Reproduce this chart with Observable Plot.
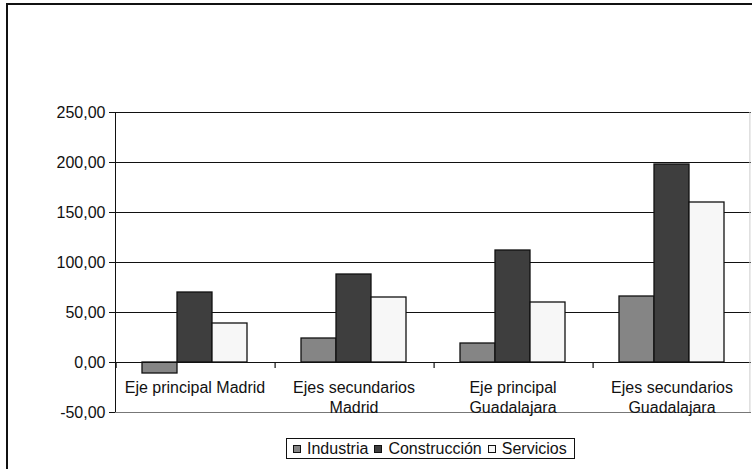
<!DOCTYPE html>
<html>
<head>
<meta charset="utf-8">
<script src="https://cdn.jsdelivr.net/npm/d3@7"></script>
<script src="https://cdn.jsdelivr.net/npm/@observablehq/plot@0.6"></script>
<style>
  html, body { margin: 0; padding: 0; background: #fff; }
  #wrap { position: relative; width: 752px; height: 469px; overflow: hidden; font-family: "Liberation Sans", Arial, sans-serif; }
  #border { position: absolute; left: 6px; top: 3px; width: 760px; height: 480px; border-left: 2px solid #111; border-top: 2px solid #111; box-sizing: border-box; }
  #chart { position: absolute; left: 0; top: 0; }
  #legend { position: absolute; left: 286px; top: 438px; height: 21px; width: 289px; box-sizing: border-box; border: 1px solid #111;
            display: flex; align-items: center; font-size: 16px; color: #111; padding-left: 6px; white-space: nowrap; }
  #legend .item { display: flex; align-items: center; margin-right: 6px; }
  #legend .sw { width: 8px; height: 8px; box-sizing: border-box; border: 1px solid #111; margin-right: 6px; }
</style>
</head>
<body>
<div id="wrap">
  <div id="border"></div>
  <div id="chart"></div>
  <div id="legend"></div>
</div>
<script>
// ---- data ----
const categories = ["Eje principal Madrid", "Ejes secundarios Madrid", "Eje principal Guadalajara", "Ejes secundarios Guadalajara"];
const categoryLabels = ["Eje principal Madrid", "Ejes secundarios\nMadrid", "Eje principal\nGuadalajara", "Ejes secundarios\nGuadalajara"];
const series = ["Industria", "Construcción", "Servicios"];
const industria = [-11, 24, 19, 66];
const construccion = [70, 88, 112, 198];
const servicios = [39, 65, 60, 160];
const yTicks = [-50, 0, 50, 100, 150, 200, 250];
const gridValues = [50, 100, 150, 200, 250];
const colors = ["#858585", "#3e3e3e", "#f7f7f7"];

const seriesValues = [industria, construccion, servicios];
const rows = [];
categories.forEach((c, i) => series.forEach((s, j) => rows.push({cat: c, series: s, value: seriesValues[j][i]})));

// ---- layout ----
const W = 752, H = 420, mL = 113, mR = 0, mT = 112, mB = 8;
const po = 0.72; // outer padding of the bars within each group
const facetW = (W - mL - mR) / categories.length;
const bw = facetW / (series.length + 2 * po);
const edgeOffset = po * bw + bw / 2;

const fmt = d => d.toFixed(2).replace(".", ",");

const chart = Plot.plot({
  width: W, height: H,
  marginLeft: mL, marginRight: mR, marginTop: mT, marginBottom: mB,
  facet: {data: rows, x: "cat", marginTop: 0, marginRight: 0, marginBottom: 0, marginLeft: 0},
  fx: {domain: categories, padding: 0, axis: null},
  x: {domain: series, paddingInner: 0, paddingOuter: po, axis: null},
  y: {domain: [-50, 250], ticks: yTicks, tickFormat: fmt, tickSize: 6, tickPadding: 4, line: true, label: null},
  color: {domain: series, range: colors},
  style: {fontFamily: "'Liberation Sans', Arial, sans-serif", fontSize: "16px", color: "#111", background: "transparent", overflow: "visible"},
  marks: [
    Plot.ruleY(gridValues, {stroke: "#111", strokeWidth: 1}),
    Plot.ruleY([-50], {stroke: "#777", strokeWidth: 1}),
    Plot.barY(rows, {x: "series", y: "value", fill: "series", stroke: "#111", strokeWidth: 1.3}),
    Plot.ruleY([0], {stroke: "#111", strokeWidth: 1}),
    Plot.ruleX(series.slice(0, 1), {x: d => d, y1: () => 0, y2: () => 0, insetBottom: -6, dx: -edgeOffset, stroke: "#111", strokeWidth: 1.2}),
    Plot.ruleX(rows, {filter: d => d.cat === categories[categories.length - 1] && d.series === series[series.length - 1],
                      x: "series", y1: () => -50, y2: () => 250, dx: edgeOffset - 1, stroke: "#ccc"}),
    Plot.text(rows, {filter: d => d.series === series[0], y: () => 0,
                     text: d => categoryLabels[categories.indexOf(d.cat)],
                     lineAnchor: "top", dy: 17, lineHeight: 1.22, fontSize: 16, fill: "#111"})
  ]
});
document.getElementById("chart").appendChild(chart);

// ---- legend ----
const legend = document.getElementById("legend");
series.forEach((s, i) => {
  const item = document.createElement("div");
  item.className = "item";
  const sw = document.createElement("div");
  sw.className = "sw";
  sw.style.background = colors[i];
  const label = document.createElement("span");
  label.textContent = s;
  item.appendChild(sw);
  item.appendChild(label);
  legend.appendChild(item);
});
</script>
</body>
</html>
